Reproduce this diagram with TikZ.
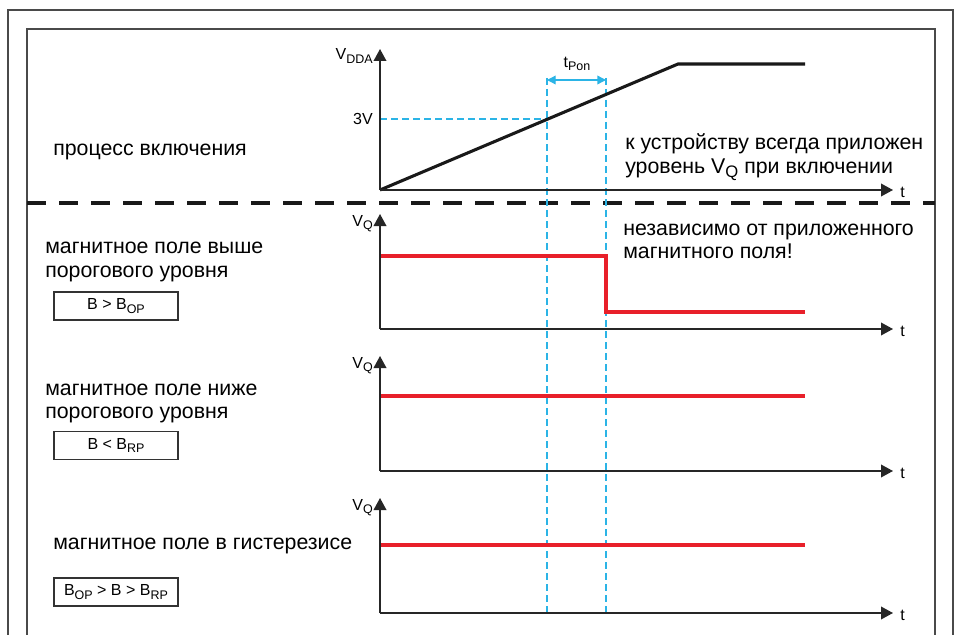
\documentclass[tikz,border=0pt]{standalone}
\usepackage{graphicx}
\usepackage{fontspec}
\setmainfont{Liberation Sans}
\usetikzlibrary{arrows.meta}
\definecolor{redline}{HTML}{E8202A}
\definecolor{cyanline}{HTML}{2BB4E6}
\definecolor{framegray}{HTML}{4A4A4A}
\newcommand{\sbs}[1]{\raisebox{-0.38ex}{\scalebox{0.78}{#1}}}
\begin{document}
\begin{tikzpicture}[x=0.75pt,y=-0.75pt,
  frame/.style={draw=framegray, line width=1.4pt},
  axis/.style={draw=black!85, line width=1.1pt, -{Triangle[length=9pt,width=9.5pt]}},
  ramp/.style={draw=black!90, line width=2.3pt},
  sig/.style={draw=redline, line width=2.4pt},
  guide/.style={draw=cyanline, line width=1pt, dash pattern=on 5.25pt off 3pt},
  sep/.style={draw=black!90, line width=3pt, dash pattern=on 14.25pt off 9.75pt},
  maintext/.style={font=\fontsize{16}{18}\selectfont, anchor=base west, inner sep=0pt},
  lbl/.style={font=\fontsize{12}{14}\selectfont, inner sep=0pt},
  condbox/.style={draw=black!80, line width=0.8pt, minimum width=93pt, minimum height=21pt, inner sep=0pt, font=\fontsize{12}{14}\selectfont}
]
\useasboundingbox (0,0) rectangle (957,635);
\fill[white] (0,0) rectangle (957,635);
% frames
\draw[frame] (8,645) -- (8,10) -- (953,10) -- (953,645);
\draw[frame] (27,645) -- (27,29) -- (935,29) -- (935,645);
% separator
\draw[sep] (27,203) -- (935,203);

% guides
\coordinate (g1t) at (547,78);
\coordinate (g1b) at (547,612);
\coordinate (g2t) at (606,78);
\coordinate (g2b) at (606,612);
\coordinate (c3v) at (380,119);
\coordinate (p3v) at (547,119);
\draw[guide] (c3v) -- (p3v);
\draw[guide] (g1t) -- (g1b);
\draw[guide] (g2t) -- (g2b);
\coordinate (ta) at (547,80);
\coordinate (tb) at (606,80);
\draw[draw=cyanline, line width=1pt, {Triangle[length=6.5pt,width=6.5pt]}-{Triangle[length=6.5pt,width=6.5pt]}] (ta) -- (tb);
\node[lbl, text=black] (tpon) at (577,64) {t\sbs{Pon}};

% plot 1
\coordinate (o1) at (380,190);
\coordinate (y1) at (380,49);
\coordinate (x1) at (893,190);
\coordinate (r1) at (678,64);
\coordinate (r2) at (805,64);
\draw[ramp] (o1) -- (r1) -- (r2);
\draw[axis] (o1) -- (y1);
\draw[axis] (o1) -- (x1);
\node[lbl, anchor=base west] (t1) at (900,197) {t};
\node[lbl, anchor=base east] (vdda) at (373,60) {V\sbs{DDA}};
\node[lbl, anchor=east] (l3v) at (373,119) {3V};
\node[maintext] (proc) at (53,155) {процесс включения};
\node[maintext] (note1) at (625,149) {к устройству всегда приложен};
\node[maintext] (note2) at (625,173) {уровень V\sbs{Q} при включении};

% plot 2
\coordinate (o2) at (380,329);
\coordinate (y2) at (380,214);
\coordinate (x2) at (893,329);
\coordinate (s2a) at (380,256);
\coordinate (s2b) at (606,256);
\coordinate (s2c) at (606,312);
\coordinate (s2d) at (805,312);
\draw[sig] (s2a) -- (s2b) -- (s2c) -- (s2d);
\draw[axis] (o2) -- (y2);
\draw[axis] (o2) -- (x2);
\node[lbl, anchor=base west] (t2) at (900,336) {t};
\node[lbl, anchor=base east] (vq2) at (373,226) {V\sbs{Q}};
\node[maintext] (m2a) at (45,253) {магнитное поле выше};
\node[maintext] (m2b) at (45,277) {порогового уровня};
\node[condbox] (b2) at (116,306) {B > B\sbs{OP}};
\node[maintext] (n2a) at (623,235) {независимо от приложенного};
\node[maintext] (n2b) at (623,258) {магнитного поля!};

% plot 3
\coordinate (o3) at (380,471);
\coordinate (y3) at (380,356);
\coordinate (x3) at (893,471);
\coordinate (s3a) at (380,396);
\coordinate (s3b) at (805,396);
\draw[sig] (s3a) -- (s3b);
\draw[axis] (o3) -- (y3);
\draw[axis] (o3) -- (x3);
\node[lbl, anchor=base west] (t3) at (900,478) {t};
\node[lbl, anchor=base east] (vq3) at (373,368) {V\sbs{Q}};
\node[maintext] (m3a) at (45,395) {магнитное поле ниже};
\node[maintext] (m3b) at (45,418) {порогового уровня};
\node[condbox] (b3) at (116,445.5) {B < B\sbs{RP}};

% plot 4
\coordinate (o4) at (380,613);
\coordinate (y4) at (380,498);
\coordinate (x4) at (893,613);
\coordinate (s4a) at (380,545);
\coordinate (s4b) at (805,545);
\draw[sig] (s4a) -- (s4b);
\draw[axis] (o4) -- (y4);
\draw[axis] (o4) -- (x4);
\node[lbl, anchor=base west] (t4) at (900,620) {t};
\node[lbl, anchor=base east] (vq4) at (373,510) {V\sbs{Q}};
\node[maintext] (m4a) at (53,549) {магнитное поле в гистерезисе};
\node[condbox] (b4) at (116,592) {B\sbs{OP} > B > B\sbs{RP}};
\end{tikzpicture}
\end{document}
